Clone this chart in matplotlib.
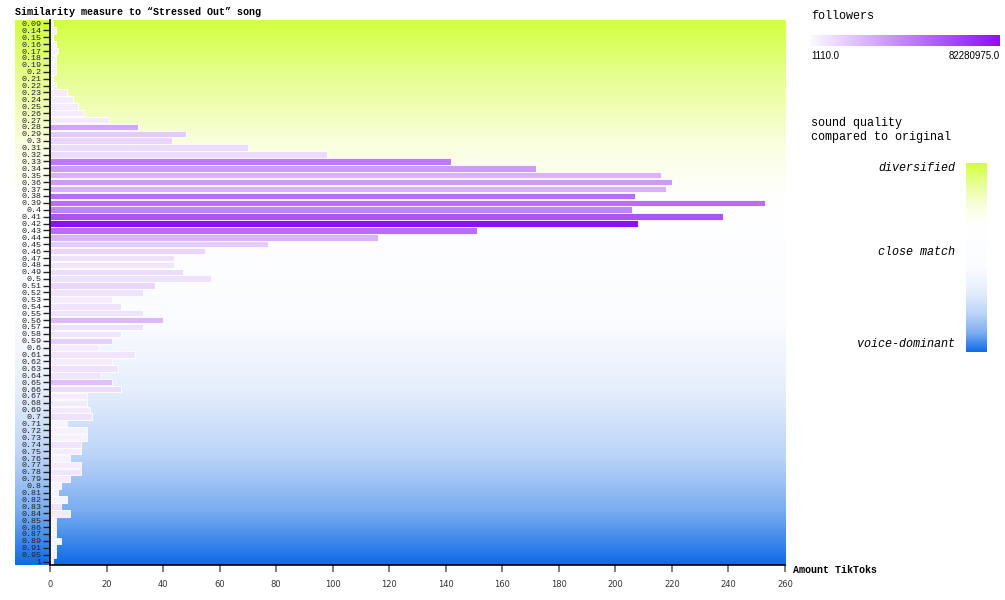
import numpy as np
import matplotlib
matplotlib.use("Agg")
import matplotlib.pyplot as plt
from matplotlib.colors import LinearSegmentedColormap, Normalize


# similarity buckets (top to bottom) and number of TikToks in each
similarity = [
    "0.09", "0.14", "0.15", "0.16", "0.17", "0.18", "0.19", "0.2", "0.21", "0.22",
    "0.23", "0.24", "0.25", "0.26", "0.27", "0.28", "0.29", "0.3", "0.31", "0.32",
    "0.33", "0.34", "0.35", "0.36", "0.37", "0.38", "0.39", "0.4", "0.41", "0.42",
    "0.43", "0.44", "0.45", "0.46", "0.47", "0.48", "0.49", "0.5", "0.51", "0.52",
    "0.53", "0.54", "0.55", "0.56", "0.57", "0.58", "0.59", "0.6", "0.61", "0.62",
    "0.63", "0.64", "0.65", "0.66", "0.67", "0.68", "0.69", "0.7", "0.71", "0.72",
    "0.73", "0.74", "0.75", "0.76", "0.77", "0.78", "0.79", "0.8", "0.81", "0.82",
    "0.83", "0.84", "0.85", "0.86", "0.87", "0.89", "0.91", "0.95", "1",
]
tiktoks = [
    1, 2, 1, 2, 3, 2, 2, 2, 1, 2,
    6, 8, 10, 12, 21, 31, 48, 43, 70, 98,
    142, 172, 216, 220, 218, 207, 253, 206, 238, 208,
    151, 116, 77, 55, 44, 44, 47, 57, 37, 33,
    22, 25, 33, 40, 33, 25, 22, 17, 30, 22,
    24, 18, 22, 25, 13, 13, 14, 15, 6, 13,
    13, 11, 11, 7, 11, 11, 7, 4, 3, 6,
    4, 7, 2, 2, 2, 4, 2, 2, 1,
]
# followers per bucket, in millions
followers_m = [
    2.5, 2.5, 2.5, 2.5, 2.5, 2.5, 2.5, 2.5, 2.5, 2.5,
    4, 4, 4, 4, 4, 29, 16, 12, 10, 10,
    45, 33, 25, 33, 25, 49, 49, 41, 58, 82.28,
    49, 25, 16, 12, 8, 7, 10, 8, 12, 8,
    4, 7, 8, 23, 8, 7, 15, 4, 7, 4,
    8, 7, 20, 10, 4, 5, 5, 8, 2, 3,
    3, 7, 4, 2.5, 4, 7, 4, 2.5, 2, 2.5,
    8, 5, 2, 2, 2, 2, 2, 2, 2,
]
followers_min = 1110.0
followers_max = 82280975.0

quality_labels = ["diversified", "close match", "voice-dominant"]

followers = np.clip(np.array(followers_m) * 1e6, followers_min, followers_max)

purple = LinearSegmentedColormap.from_list("followers", ["#faf8ff", "#8a10f6"])
quality = LinearSegmentedColormap.from_list("quality", [
    (0.0, "#d3ff42"), (0.1, "#e6ff8f"), (0.22, "#f9fedd"), (0.33, "#ffffff"),
    (0.55, "#fbfcff"), (0.68, "#e6eefc"), (0.8, "#bcd4f8"), (0.9, "#7caef0"),
    (1.0, "#0f6be7"),
])

fig = plt.figure(figsize=(10.05, 6.0), dpi=100)
W, H = 1005, 600


def box(x0, y0, x1, y1):
    return [x0 / W, 1 - y1 / H, (x1 - x0) / W, (y1 - y0) / H]


grad = np.linspace(0, 1, 256).reshape(-1, 1)

# background gradient behind the chart (reaches under the tick labels)
bg = fig.add_axes(box(15, 20, 785, 565), zorder=0)
bg.imshow(grad, aspect="auto", cmap=quality, extent=(0, 1, 1, 0))
bg.axis("off")

ax = fig.add_axes(box(50, 20, 785, 565), zorder=1)
ax.patch.set_alpha(0)
pos = np.arange(len(similarity))
norm = Normalize(followers_min, followers_max)
ax.barh(pos, tiktoks, height=0.95, color=purple(norm(followers)),
        edgecolor="white", linewidth=0.6)
ax.set_ylim(len(similarity) - 0.5, -0.5)
ax.set_xlim(0, 260)
ax.set_xticks(np.arange(0, 261, 20))
ax.set_yticks(pos)
ax.set_yticklabels(similarity, family="Liberation Mono", fontsize=6)
for lbl in ax.get_xticklabels():
    lbl.set_family("DejaVu Sans")
    lbl.set_fontsize(6)
ax.tick_params(axis="y", length=5, width=1, pad=1, colors="#222222")
ax.tick_params(axis="x", length=5, width=1.2, pad=6, colors="#666666",
               labelcolor="#333333")
for side in ("top", "right"):
    ax.spines[side].set_visible(False)
ax.spines["left"].set_linewidth(1.2)
ax.spines["bottom"].set_linewidth(1.2)

fig.text(15 / W, 1 - 12 / H, "Similarity measure to \u201cStressed Out\u201d song",
         family="Liberation Mono", fontsize=7.2, fontweight="bold", va="center")
fig.text(793 / W, 1 - 570 / H, "Amount TikToks", family="Liberation Mono",
         fontsize=7.2, fontweight="bold", va="center")

# followers legend
fig.text(811 / W, 1 - 16 / H, "followers", family="Liberation Mono",
         fontsize=8.5, va="center")
cax = fig.add_axes(box(811, 35, 1000, 46))
cax.imshow(grad.T, aspect="auto", cmap=purple)
cax.axis("off")
fig.text(811 / W, 1 - 56 / H, f"{followers_min:.1f}", family="Liberation Sans",
         fontsize=7, va="center")
fig.text(1000 / W, 1 - 56 / H, f"{followers_max:.1f}", family="Liberation Sans",
         fontsize=7, va="center", ha="right")

# sound quality legend
fig.text(811 / W, 1 - 123 / H, "sound quality", family="Liberation Mono",
         fontsize=8.5, va="center")
fig.text(811 / W, 1 - 137 / H, "compared to original", family="Liberation Mono",
         fontsize=8.5, va="center")
qax = fig.add_axes(box(966, 163, 987, 352))
qax.imshow(grad, aspect="auto", cmap=quality)
qax.axis("off")
for lbl, y in zip(quality_labels, [168, 252, 344]):
    fig.text(955 / W, 1 - y / H, lbl, family="Liberation Mono", style="italic",
             fontsize=8.5, va="center", ha="right")

fig.savefig("out.png", dpi=100)
